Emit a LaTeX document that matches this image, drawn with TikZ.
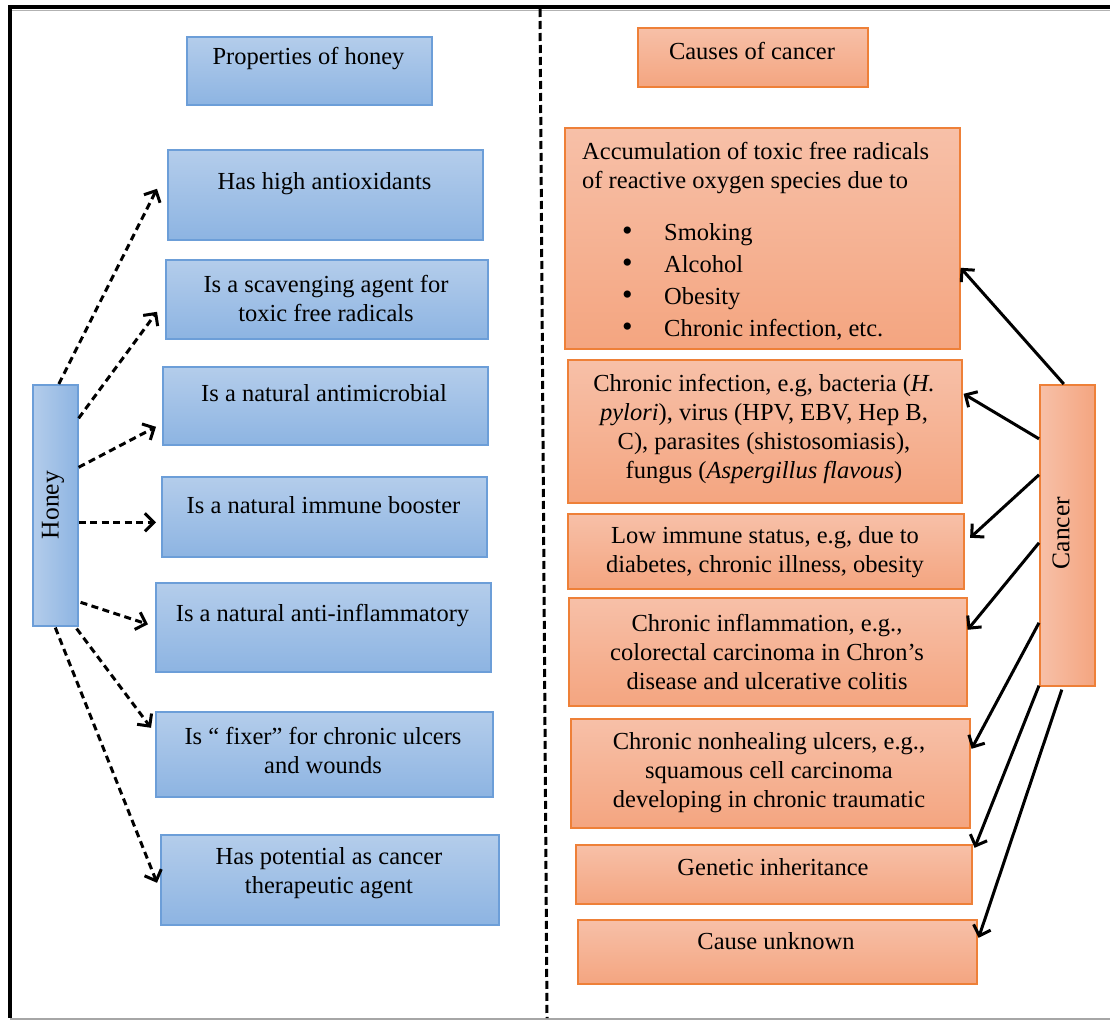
\documentclass[tikz,border=0pt]{standalone}
\usepackage{fontspec}
\setmainfont{Liberation Serif}
\usetikzlibrary{arrows.meta}
\newcommand\bodyfs{\fontsize{24.5}{29}\selectfont}
\newcommand\rotfs{\fontsize{25.5}{29}\selectfont}
\newcommand\bigbul{{\fontsize{30}{29}\selectfont\textbullet}}
\definecolor{bluetop}{RGB}{180,205,235}
\definecolor{bluebot}{RGB}{141,180,226}
\definecolor{bluebd}{RGB}{108,158,216}
\definecolor{ortop}{RGB}{247,192,168}
\definecolor{orbot}{RGB}{244,165,128}
\definecolor{orbd}{RGB}{238,128,56}
\begin{document}
\begin{tikzpicture}[x=1pt,y=-1pt,
  bluebox/.style={draw=bluebd, line width=1.6pt, top color=bluetop, bottom color=bluebot, anchor=north west, inner sep=0pt},
  orbox/.style={draw=orbd, line width=1.6pt, top color=ortop, bottom color=orbot, anchor=north west, inner sep=0pt},
  txt/.style={font=\bodyfs, align=center, inner sep=0pt},
  darr/.style={line width=3pt, dash pattern=on 7pt off 4.5pt, -{Straight Barb[length=9pt,width=18pt]}},
  sarr/.style={line width=3pt, -{Straight Barb[length=9pt,width=18pt]}}
]
\useasboundingbox (0,0) rectangle (1110,1020);
% frame
\draw[gray!60, line width=1pt] (12,10.5) -- (1110,10.5);
\draw[line width=4pt] (8.25,7) -- (1110,7);
\draw[line width=3.5pt] (10,5) -- (10,1018);
\draw[gray!70, line width=1.5pt] (10,1019) -- (1110,1019);
\draw[line width=3pt, dash pattern=on 8pt off 4pt] (540,9) -- (547,1018);

% ---------- left: honey ----------
\node[bluebox, minimum width=245pt, minimum height=68pt] (p0) at (186,36) {};
\node[bluebox, minimum width=315pt, minimum height=90pt] (h1) at (167,149) {};
\node[bluebox, minimum width=322pt, minimum height=79pt] (h2) at (165,259) {};
\node[bluebox, minimum width=325pt, minimum height=78pt] (h3) at (162,366) {};
\node[bluebox, minimum width=325pt, minimum height=80pt] (h4) at (161,476) {};
\node[bluebox, minimum width=335pt, minimum height=89pt] (h5) at (155,582) {};
\node[bluebox, minimum width=337pt, minimum height=85pt] (h6) at (155,711) {};
\node[bluebox, minimum width=338pt, minimum height=90pt] (h7) at (160,834) {};
\node[draw=bluebd, line width=1.6pt, left color=bluetop, right color=bluebot, anchor=north west, inner sep=0pt,
      minimum width=45pt, minimum height=241pt] (honey) at (32,384) {};

\node[txt] (p0t) at (308.5,59) {Properties of honey};
\node[txt] (h1t) at (324.5,184) {Has high antioxidants};
\node[txt] (h2t) at (326,298) {Is a scavenging agent for\\toxic free radicals};
\node[txt] (h3t) at (324,393) {Is a natural antimicrobial};
\node[txt] (h4t) at (323.5,505) {Is a natural immune booster};
\node[txt] (h5t) at (322.5,616) {Is a natural anti-inflammatory};
\node[txt] (h6t) at (323,750) {Is “ fixer” for chronic ulcers\\and wounds};
\node[txt] (h7t) at (329,873) {Has potential as cancer\\therapeutic agent};
\node[font=\rotfs, rotate=90, inner sep=0pt] (honeyt) at (53,505) {Honey};

\draw[darr] ([xshift=3.5pt]honey.north) -- ([xshift=-10pt,yshift=6pt]h1.west);
\draw[darr] ([yshift=87pt]honey.east) -- ([xshift=-8pt,yshift=-12.5pt]h2.west);
\draw[darr] ([yshift=38pt]honey.east) -- ([xshift=-6pt,yshift=-21pt]h3.west);
\draw[darr] ([yshift=-17pt]honey.east) -- ([xshift=-5pt,yshift=-5.5pt]h4.west);
\draw[darr] ([xshift=2pt,yshift=-97pt]honey.east) -- ([xshift=-7pt,yshift=3pt]h5.west);
\draw[darr] ([xshift=-2pt,yshift=-2pt]honey.south east) -- ([xshift=-4pt,yshift=26.5pt]h6.west);
\draw[darr] ([yshift=-1pt]honey.south) -- ([xshift=-3pt,yshift=-3pt]h7.west);

% ---------- right: cancer ----------
\node[orbox, minimum width=230pt, minimum height=59pt] (c0) at (637,27) {};
\node[orbox, minimum width=395pt, minimum height=221pt] (acc) at (564,127) {};
\node[orbox, minimum width=394pt, minimum height=143pt] (inf) at (567,359) {};
\node[orbox, minimum width=396pt, minimum height=75pt] (low) at (567,513) {};
\node[orbox, minimum width=398pt, minimum height=108pt] (infl) at (568,597) {};
\node[orbox, minimum width=399pt, minimum height=109pt] (nh) at (570,718) {};
\node[orbox, minimum width=396pt, minimum height=59pt] (gen) at (575,844) {};
\node[orbox, minimum width=399pt, minimum height=64pt] (unk) at (577,919) {};
\node[draw=orbd, line width=1.6pt, left color=ortop, right color=orbot, anchor=north west, inner sep=0pt,
      minimum width=55pt, minimum height=301pt] (cancer) at (1039,384) {};

\node[txt] (c0t) at (752,51) {Causes of cancer};
\node[txt, align=left, anchor=north west] (acct) at (582,142) {Accumulation of toxic free radicals\\
of reactive oxygen species due to\\[23pt]
\hspace*{40pt}\makebox[42pt][l]{\bigbul}Smoking\\[3pt]
\hspace*{40pt}\makebox[42pt][l]{\bigbul}Alcohol\\[3pt]
\hspace*{40pt}\makebox[42pt][l]{\bigbul}Obesity\\[3pt]
\hspace*{40pt}\makebox[42pt][l]{\bigbul}Chronic infection, etc.};
\node[txt] (inft) at (764,429) {Chronic infection, e.g, bacteria (\textit{H.}\\
\textit{pylori}), virus (HPV, EBV, Hep B,\\
C), parasites (shistosomiasis),\\
fungus (\textit{Aspergillus flavous})};
\node[txt] (lowt) at (765,552) {Low immune status, e.g, due to\\diabetes, chronic illness, obesity};
\node[txt] (inflt) at (767,652) {Chronic inflammation, e.g.,\\colorectal carcinoma in Chron’s\\disease and ulcerative colitis};
\node[txt] (nht) at (769,773) {Chronic nonhealing ulcers, e.g.,\\squamous cell carcinoma\\developing in chronic traumatic};
\node[txt] (gent) at (773,867) {Genetic inheritance};
\node[txt] (unkt) at (776,941) {Cause unknown};
\node[font=\rotfs, rotate=90, inner sep=0pt] (cancert) at (1061,533) {Cancer};

\draw[sarr] ([xshift=-3.5pt]cancer.north) -- ([yshift=-29.5pt]acc.east);
\draw[sarr] ([yshift=96.5pt]cancer.west) -- ([xshift=1pt,yshift=37.5pt]inf.east);
\draw[sarr] ([yshift=60.5pt]cancer.west) -- ([xshift=5.5pt,yshift=13.5pt]low.east);
\draw[sarr] ([yshift=-7.5pt]cancer.west) -- ([yshift=22pt]infl.east);
\draw[sarr] ([yshift=-87.5pt]cancer.west) -- ([xshift=1pt,yshift=24.5pt]nh.east);
\draw[sarr] ([yshift=1pt]cancer.south west) -- ([xshift=2pt,yshift=26.5pt]gen.east);
\draw[sarr] ([xshift=-5.5pt,yshift=-3pt]cancer.south) -- ([xshift=1pt,yshift=14pt]unk.east);
\end{tikzpicture}
\end{document}
